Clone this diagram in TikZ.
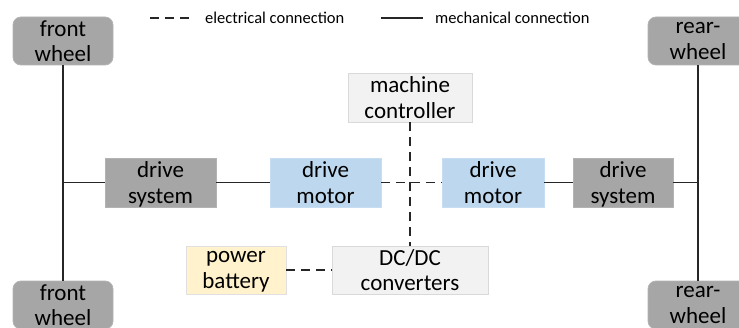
\documentclass[tikz,border=0pt]{standalone}
\usepackage{fontspec}
\setmainfont{Carlito}
\begin{document}
\begin{tikzpicture}[x=1pt,y=1pt,
  every node/.style={font=\fontsize{23}{25.5}\selectfont, align=center, inner sep=0pt, text=black},
  box/.style={draw=#1!85!white, line width=0.8pt, fill=#1, minimum height=48, text depth=0pt},
  wheelbox/.style={box=wheelgray, rounded corners=8pt, minimum width=100},
  elec/.style={line width=1.1pt, draw=black!85, dash pattern=on 9pt off 6pt},
  mech/.style={line width=1.1pt, draw=black!85},
  legend/.style={font=\fontsize{16.5}{19}\selectfont, anchor=west}
]
\definecolor{wheelgray}{HTML}{A6A6A6}
\definecolor{motorblue}{HTML}{BDD7EE}
\definecolor{battyellow}{HTML}{FFF2CC}
\definecolor{ctrlgray}{HTML}{F2F2F2}
\useasboundingbox (0,0) rectangle (739,327);

% wheels
\node[wheelbox] (fw1) at (63,286) {front\\wheel};
\node[wheelbox] (fw2) at (63,22) {front\\wheel};
\node[wheelbox] (rw1) at (698,286) {rear-\\wheel};
\node[wheelbox] (rw2) at (698,22) {rear-\\wheel};

% drive chain
\node[box=wheelgray, minimum width=111, minimum height=49] (ds1) at (160.5,144.5) {drive\\system};
\node[box=motorblue, minimum width=111, minimum height=49] (dm1) at (325.5,144.5) {drive\\motor};
\node[box=motorblue, minimum width=102, minimum height=49] (dm2) at (493,144.5) {drive\\motor};
\node[box=wheelgray, minimum width=100, minimum height=49] (ds2) at (623,144.5) {drive\\system};

% controller, converters, battery
\node[box=ctrlgray, draw=black!15, minimum width=124, minimum height=49] (mc) at (410,229.5) {machine\\controller};
\node[box=ctrlgray, draw=black!15, minimum width=156] (dc) at (410,57) {DC/DC\\converters};
\node[box=battyellow, draw=black!12, minimum width=100] (pb) at (236,57) {power\\battery};

% mechanical connections
\draw[mech] (fw1.south) -- (fw2.north);
\draw[mech] (rw1.south) -- (rw2.north);
\coordinate (L) at (fw1.south |- ds1.west);
\coordinate (R) at (rw1.south |- ds2.east);
\draw[mech] (L) -- (ds1.west);
\draw[mech] (ds1.east) -- (dm1.west);
\draw[mech] (dm2.east) -- (ds2.west);
\draw[mech] (ds2.east) -- (R);

% electrical connections
\draw[elec] (dm1.east) -- (dm2.west);
\draw[elec] (mc.south) -- (dc.north);
\draw[elec] (pb.east) -- (dc.west);

% legend
\coordinate (e1) at (150,309);
\coordinate (e2) at (190,309);
\draw[elec] (e1) -- (e2);
\node[legend] (et) at (205,309) {electrical connection};
\coordinate (m1) at (381,309);
\coordinate (m2) at (423,309);
\draw[mech] (m1) -- (m2);
\node[legend] (mt) at (435,309) {mechanical connection};
\end{tikzpicture}
\end{document}
